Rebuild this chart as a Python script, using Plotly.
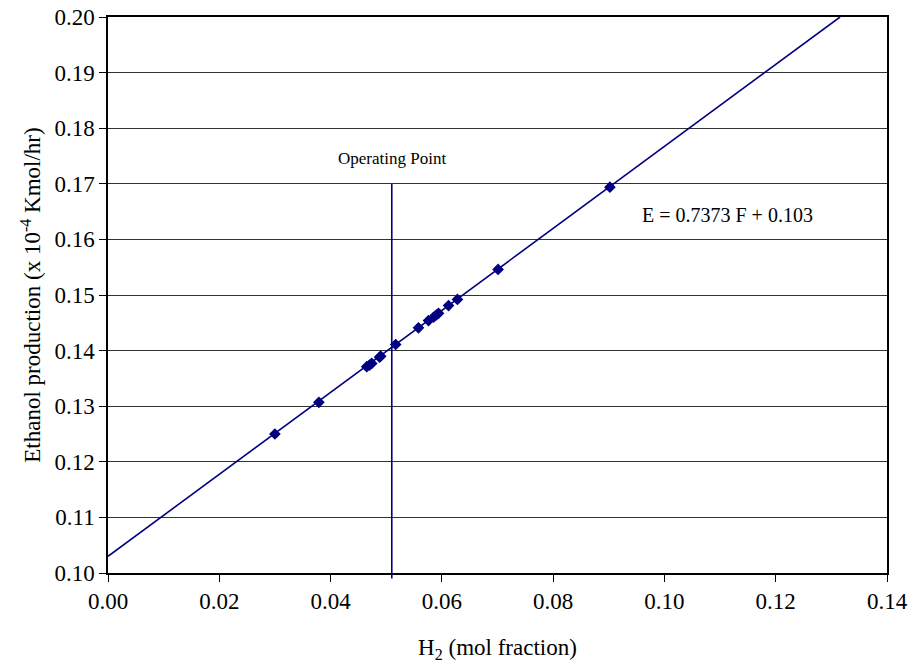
import plotly.graph_objects as go

# Data
h2_frac = [0.0300, 0.0379, 0.0465, 0.0470, 0.0474, 0.0488, 0.0490, 0.0517, 0.0558,
           0.0576, 0.0585, 0.0590, 0.0594, 0.0612, 0.0628, 0.0701, 0.0902]
ethanol = [0.1250, 0.1307, 0.1371, 0.1374, 0.1377, 0.1388, 0.1390, 0.1411, 0.1441,
           0.1454, 0.1460, 0.1464, 0.1467, 0.1481, 0.1492, 0.1546, 0.1694]

slope = 0.7373
intercept = 0.103
operating_x = 0.051
operating_ytop = 0.17

x_range = [0.0, 0.14]
y_range = [0.10, 0.20]
x_ticks = [0.00, 0.02, 0.04, 0.06, 0.08, 0.10, 0.12, 0.14]
y_ticks = [0.10, 0.11, 0.12, 0.13, 0.14, 0.15, 0.16, 0.17, 0.18, 0.19, 0.20]

NAVY = "#000080"
FONT = "Liberation Serif, Times New Roman, serif"

# trendline endpoints from the stated equation
trend_x = [0.0, (y_range[1] - intercept) / slope]
trend_y = [intercept + slope * x for x in trend_x]

fig = go.Figure()
fig.add_trace(go.Scatter(x=trend_x, y=trend_y, mode="lines",
                         line=dict(color=NAVY, width=1.6), hoverinfo="skip",
                         showlegend=False))
fig.add_trace(go.Scatter(x=h2_frac, y=ethanol, mode="markers",
                         marker=dict(symbol="diamond", size=9, color=NAVY),
                         showlegend=False))

fig.add_shape(type="line", xref="x", yref="paper",
              x0=operating_x, x1=operating_x,
              y0=-0.01, y1=(operating_ytop - y_range[0]) / (y_range[1] - y_range[0]),
              line=dict(color=NAVY, width=1.6))

fig.add_annotation(x=operating_x, y=operating_ytop, xref="x", yref="y",
                   text="Operating Point", showarrow=False, yshift=25,
                   font=dict(family=FONT, size=17, color="black"))
fig.add_annotation(x=0.1114, y=0.1644, xref="x", yref="y",
                   text="E = 0.7373 F + 0.103", showarrow=False,
                   font=dict(family=FONT, size=20, color="black"))

fig.update_layout(
    width=912, height=664,
    margin=dict(l=108, r=25, t=17, b=91),
    paper_bgcolor="white", plot_bgcolor="white",
    font=dict(family=FONT, size=23, color="black"),
    xaxis=dict(range=x_range, tickvals=x_ticks, tickformat=".2f", automargin=False,
               showgrid=False, zeroline=False,
               showline=True, linecolor="black", linewidth=1.5, mirror=True,
               ticks="outside", ticklen=7, tickcolor="black",
               title=dict(text="H<sub>2</sub> (mol fraction)", standoff=26,
                          font=dict(size=23))),
    yaxis=dict(range=y_range, tickvals=y_ticks, tickformat=".2f", automargin=False,
               showgrid=True, gridcolor="#333333", gridwidth=1, zeroline=False,
               showline=True, linecolor="black", linewidth=1.5, mirror=True,
               ticks="outside", ticklen=7, tickcolor="black",
               title=dict(text="Ethanol production (x 10<sup>-4</sup> Kmol/hr)",
                          standoff=7, font=dict(size=23))),
)

fig.write_html("out.html")
